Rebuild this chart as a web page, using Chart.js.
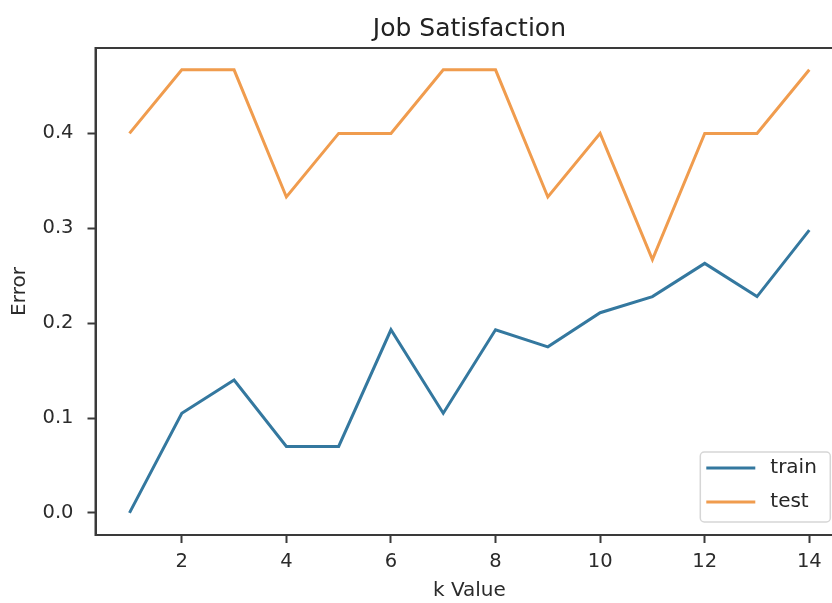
<!DOCTYPE html>
<html>
<head>
<meta charset="utf-8">
<script src="https://cdn.jsdelivr.net/npm/chart.js@4/dist/chart.umd.min.js"></script>
<style>
  html, body { margin: 0; padding: 0; background: #ffffff; overflow: hidden; }
  #wrap { position: relative; width: 860px; height: 603px; }
</style>
</head>
<body>
<div id="wrap"><canvas id="c" width="860" height="603"></canvas></div>
<script>
// k values tried for the nearest-neighbour classifier
const kValues = [1, 2, 3, 4, 5, 6, 7, 8, 9, 10, 11, 12, 13, 14];
// error rates per k
const trainError = [0.0, 0.105, 0.140, 0.070, 0.070, 0.193, 0.105, 0.193, 0.175, 0.211, 0.228, 0.263, 0.228, 0.298];
const testError  = [0.400, 0.467, 0.467, 0.333, 0.400, 0.400, 0.467, 0.467, 0.333, 0.400, 0.267, 0.400, 0.400, 0.467];
// axis tick labels
const xTicks = [2, 4, 6, 8, 10, 12, 14];
const yTicks = [0.0, 0.1, 0.2, 0.3, 0.4];

const BLUE = '#34789f';
const ORANGE = '#f09c4e';
const AXIS = '#3a3a3a';
const FONT = "'DejaVu Sans', sans-serif";

// frame around the plotting area (top/right spines included)
const framePlugin = {
  id: 'frame',
  afterDatasetsDraw(chart) {
    const {ctx, chartArea: a} = chart;
    ctx.save();
    ctx.strokeStyle = AXIS;
    ctx.lineWidth = 2;
    ctx.strokeRect(a.left, a.top, a.right - a.left, a.bottom - a.top);
    ctx.restore();
  }
};

// legend box in the lower right corner of the plot
const cornerLegend = {
  id: 'cornerLegend',
  afterDraw(chart) {
    const {ctx, chartArea: a} = chart;
    const w = 130, h = 70;
    const x = a.right - 13 - w, y = a.bottom - 13 - h;
    ctx.save();
    ctx.fillStyle = 'rgba(255,255,255,0.85)';
    ctx.strokeStyle = '#d6d6d6';
    ctx.lineWidth = 1.5;
    ctx.beginPath();
    ctx.roundRect(x, y, w, h, 4);
    ctx.fill();
    ctx.stroke();
    ctx.font = '20px ' + FONT;
    ctx.textBaseline = 'middle';
    ctx.fillStyle = '#262626';
    chart.data.datasets.forEach((ds, i) => {
      const ly = y + 16 + i * 34;
      ctx.strokeStyle = ds.borderColor;
      ctx.lineWidth = ds.borderWidth;
      ctx.beginPath();
      ctx.moveTo(x + 6, ly);
      ctx.lineTo(x + 55, ly);
      ctx.stroke();
      ctx.fillText(ds.label, x + 70, ly);
    });
    ctx.restore();
  }
};

new Chart(document.getElementById('c'), {
  type: 'line',
  data: {
    datasets: [
      { label: 'train', data: kValues.map((k, i) => ({x: k, y: trainError[i]})),
        borderColor: BLUE, borderWidth: 3, pointRadius: 0, tension: 0, fill: false },
      { label: 'test', data: kValues.map((k, i) => ({x: k, y: testError[i]})),
        borderColor: ORANGE, borderWidth: 3, pointRadius: 0, tension: 0, fill: false }
    ]
  },
  options: {
    responsive: false,
    animation: false,
    events: [],
    layout: { padding: { left: 0, right: 16.7, top: 0, bottom: 0 } },
    plugins: {
      legend: { display: false },
      tooltip: { enabled: false },
      title: {
        display: true,
        text: 'Job Satisfaction',
        fullSize: false,
        color: '#222222',
        font: { family: FONT, size: 25, weight: 'normal' },
        padding: { top: 14, bottom: 4 }
      }
    },
    scales: {
      x: {
        type: 'linear',
        min: 0.35,
        max: 14.65,
        afterBuildTicks: s => { s.ticks = xTicks.map(v => ({value: v})); },
        afterFit: s => { s.height = 68; },
        grid: { drawOnChartArea: false, drawTicks: true, tickLength: 8, tickColor: AXIS, tickWidth: 2 },
        border: { display: true, color: AXIS, width: 2 },
        ticks: { color: '#2b2b2b', padding: 7, font: { family: FONT, size: 19.5 }, maxRotation: 0,
                 callback: v => String(v) },
        title: { display: true, text: 'k Value', color: '#2b2b2b',
                 font: { family: FONT, size: 20 }, padding: { top: 0, bottom: 0 } }
      },
      y: {
        type: 'linear',
        min: -0.0233,
        max: 0.49,
        afterBuildTicks: s => { s.ticks = yTicks.map(v => ({value: v})); },
        afterFit: s => { s.width = 95.5; },
        grid: { drawOnChartArea: false, drawTicks: true, tickLength: 8, tickColor: AXIS, tickWidth: 2 },
        border: { display: true, color: AXIS, width: 2 },
        ticks: { color: '#2b2b2b', padding: 14, font: { family: FONT, size: 19.5 },
                 callback: v => v.toFixed(1) },
        title: { display: true, text: 'Error', color: '#2b2b2b',
                 font: { family: FONT, size: 20 }, padding: { top: 8, bottom: 0 } }
      }
    }
  },
  plugins: [framePlugin, cornerLegend]
});
</script>
</body>
</html>
